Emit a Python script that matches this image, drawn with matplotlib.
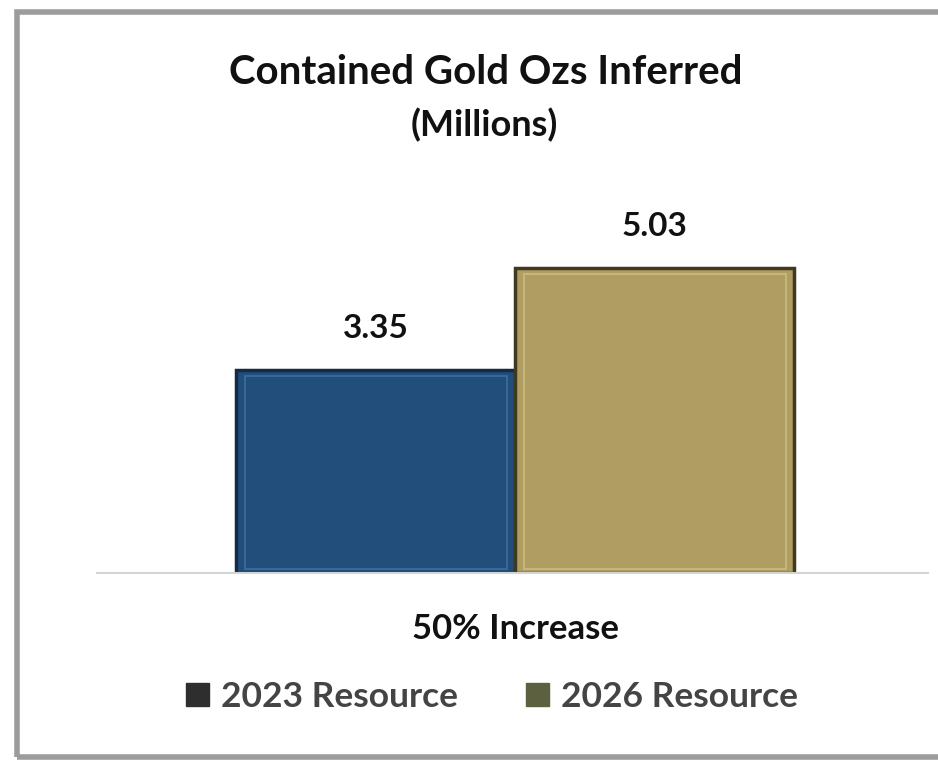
import matplotlib
matplotlib.use("Agg")
import matplotlib.pyplot as plt
from matplotlib.patches import Rectangle, Patch

# data
series = ["2023 Resource", "2026 Resource"]
values = [3.35, 5.03]
category = "50% Increase"

bar_colors = ["#224e7c", "#b09d62"]
edge_colors = ["#152a45", "#40381f"]
light_colors = ["#4a82b8", "#ddd08e"]
legend_colors = ["#2e2e2e", "#5c603e"]

plt.rcParams["font.family"] = ["Lato", "DejaVu Sans"]

fig = plt.figure(figsize=(9.38, 7.62), dpi=100)
ax = fig.add_axes([97 / 938, 0.248, (928 - 97) / 938, 364 / 762])

xs = list(range(len(values)))
for x, v, c, ec, lc in zip(xs, values, bar_colors, edge_colors, light_colors):
    ax.bar(x, v, width=1.0, color=c, edgecolor=ec, linewidth=2.5, zorder=2)
    # bevel-like inner highlight
    ax.bar(x, v - 0.16, bottom=0.06, width=0.94, fill=False,
           edgecolor=lc, linewidth=1.2, alpha=0.6, zorder=3)
    ax.annotate(f"{v:.2f}", (x, v), xytext=(0, 19), textcoords="offset points",
                ha="center", va="bottom", fontsize=24, fontweight="bold",
                color="#111111")

ax.set_xlim(-1.0, 1.98)
ax.set_ylim(0, 6)
ax.set_xticks([0.5])
ax.set_xticklabels([category], fontsize=25, fontweight="bold", color="#111111")
ax.tick_params(axis="x", length=0, pad=29)
ax.set_yticks([])
for s in ["top", "right", "left"]:
    ax.spines[s].set_visible(False)
ax.spines["bottom"].set_color("#d4d4d4")
ax.spines["bottom"].set_linewidth(1.5)

fig.text(486 / 938, 1 - 73 / 762, "Contained Gold Ozs Inferred",
         ha="center", va="center", fontsize=29, fontweight="bold", color="#111111")
fig.text(484 / 938, 1 - 125 / 762, "(Millions)",
         ha="center", va="center", fontsize=26, fontweight="bold", color="#111111")

handles = [Patch(facecolor=c, edgecolor=c) for c in legend_colors]
fig.legend(handles, series, loc="center", bbox_to_anchor=(492 / 938, 1 - 697 / 762),
           ncol=2, frameon=False, handlelength=0.65, handleheight=0.65,
           handletextpad=0.35, columnspacing=1.9,
           prop={"size": 25.5, "weight": "bold"}, labelcolor="#444444")

# outer frame
fig.add_artist(Rectangle((17 / 938, 5 / 762), 1.05, 1 - 17 / 762,
                         transform=fig.transFigure, fill=False,
                         edgecolor="#9c9c9c", linewidth=4, clip_on=False))

fig.savefig("out.png", dpi=100)
